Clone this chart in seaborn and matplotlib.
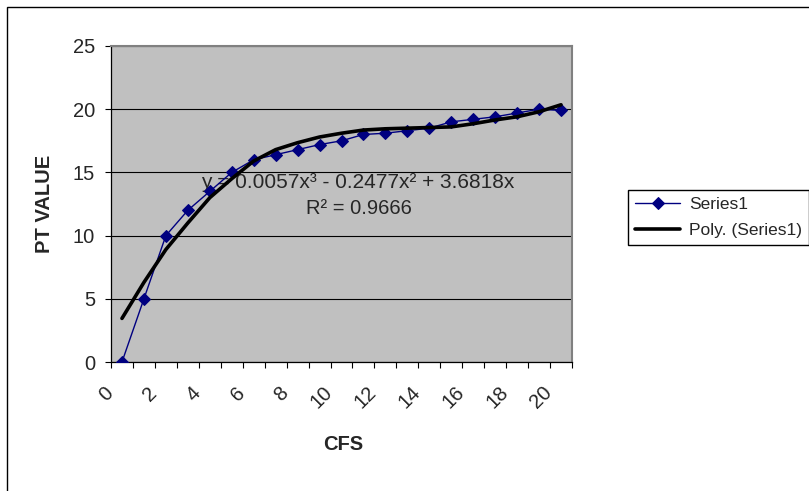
import numpy as np
import pandas as pd
import matplotlib
matplotlib.use("Agg")
import matplotlib.pyplot as plt
import seaborn as sns
from matplotlib.transforms import ScaledTranslation
from matplotlib.patches import Rectangle

# ---- data ----
categories = list(range(21))
series1 = [0, 5, 10, 12, 13.5, 15, 16, 16.4, 16.8, 17.2, 17.5, 18, 18.1, 18.3,
           18.5, 19, 19.2, 19.4, 19.7, 20, 19.9]
trend = [3.45, 6.3, 8.9, 11.0, 13.0, 14.5, 15.9, 16.8, 17.35, 17.8, 18.1, 18.35,
         18.45, 18.5, 18.55, 18.6, 18.85, 19.15, 19.4, 19.8, 20.35]
x_label_cats = categories[::2]
x_tick_labels = [str(c) for c in x_label_cats]
y_ticks = [0, 5, 10, 15, 20, 25]
equation_text = "y = 0.0057x³ - 0.2477x² + 3.6818x"
r2_text = "R² = 0.9666"
series_name = "Series1"
trend_name = "Poly. (Series1)"

sns.set_style("white")
plt.rcParams["font.family"] = ["Liberation Sans", "DejaVu Sans"]

W, H = 809, 491
fig = plt.figure(figsize=(W / 100, H / 100), dpi=100)
fig.patch.set_facecolor("white")

# outer chart border
fig.patches.append(Rectangle((7 / W, -0.1), 1.2, 1 - 7 / H + 0.1, transform=fig.transFigure,
                             fill=False, edgecolor="black", linewidth=1.0))

ax = fig.add_axes([111 / W, (H - 362) / H, 461 / W, 316 / H])
ax.set_facecolor("#c0c0c0")

df = pd.DataFrame({"cat": categories, "val": series1, "trend": trend})
sns.lineplot(data=df, x="cat", y="val", ax=ax, color="#000080", linewidth=1.0,
             marker="D", markersize=6.5, markeredgecolor="#000080",
             markerfacecolor="#000080", label=series_name, zorder=3)
sns.lineplot(data=df, x="cat", y="trend", ax=ax, color="black", linewidth=2.6,
             label=trend_name, zorder=4)

ax.set_xlim(-0.5, 20.5)
ax.set_ylim(0, 25)
ax.set_yticks(y_ticks)
ax.set_yticklabels([str(v) for v in y_ticks], fontsize=14.5)
ax.yaxis.grid(True, color="black", linewidth=0.8)
ax.xaxis.grid(False)
ax.set_axisbelow(True)

ax.set_xticks(x_label_cats)
ax.set_xticklabels(x_tick_labels, fontsize=14.5, rotation=45, ha="right", va="center",
                   rotation_mode="anchor")
ax.set_xticks(np.arange(-0.5, 21, 1), minor=True)
ax.tick_params(axis="x", which="major", length=0, pad=20)
ax.tick_params(axis="x", which="minor", length=4.5, width=0.8, color="black", direction="out")
ax.tick_params(axis="y", which="major", length=4.5, width=0.8, color="black", pad=7,
               direction="out", left=True)
ax.tick_params(axis="x", which="minor", bottom=True)
shift = ScaledTranslation(-12 / 100, 0, fig.dpi_scale_trans)
for lab in ax.get_xticklabels():
    lab.set_transform(lab.get_transform() + shift)

for s in ["left", "bottom"]:
    ax.spines[s].set_color("black")
    ax.spines[s].set_linewidth(0.9)
for s in ["top", "right"]:
    ax.spines[s].set_color("#808080")
    ax.spines[s].set_linewidth(1.5)

ax.set_xlabel("CFS", fontsize=14.5, fontweight="bold")
ax.xaxis.set_label_coords((343 - 111) / 461, (362 - 445) / 316)
ax.xaxis.label.set_va("center")
ax.set_ylabel("PT VALUE", fontsize=14.5, fontweight="bold")
ax.yaxis.set_label_coords((45 - 111) / 461, 0.5)
ax.yaxis.label.set_va("center")

ax.text(358 / W, 1 - 182 / H, equation_text, transform=fig.transFigure, ha="center",
        va="center", fontsize=15, zorder=2.5)
ax.text(359 / W, 1 - 209 / H, r2_text, transform=fig.transFigure, ha="center",
        va="center", fontsize=14.5, zorder=2.5)

leg = ax.legend(loc="upper left", bbox_to_anchor=(628 / W, 1 - 190 / H),
                bbox_transform=fig.transFigure, frameon=True, fancybox=False,
                edgecolor="black", framealpha=1, borderaxespad=0, fontsize=12.5,
                handlelength=2.6, handletextpad=0.5, borderpad=0.4, labelspacing=0.6)
leg.get_frame().set_linewidth(1.0)

fig.savefig("out.png", dpi=100)
